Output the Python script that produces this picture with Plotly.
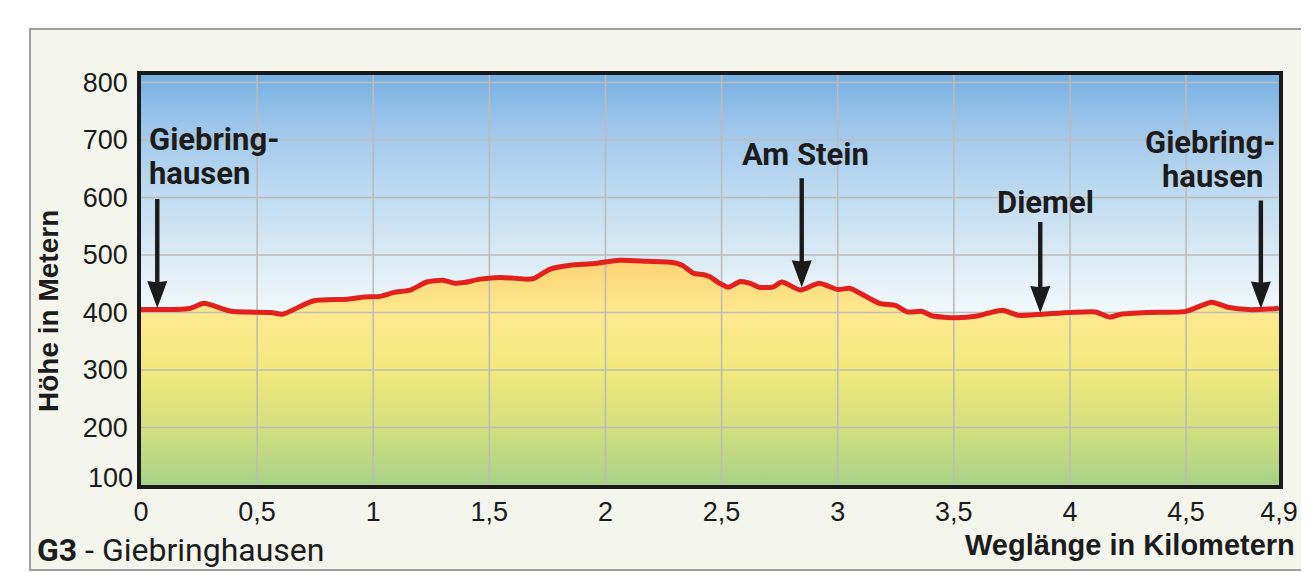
import plotly.graph_objects as go

# ---------------- data ----------------
km = [0.00, 0.21, 0.27, 0.39, 0.56, 0.61, 0.74, 0.89, 0.96, 1.03, 1.09, 1.16, 1.23, 1.30,
      1.35, 1.39, 1.46, 1.55, 1.66, 1.69, 1.76, 1.85, 1.95, 2.06, 2.18, 2.29, 2.33, 2.38,
      2.42, 2.45, 2.49, 2.53, 2.58, 2.62, 2.66, 2.72, 2.76, 2.84, 2.92, 3.00, 3.05, 3.08,
      3.18, 3.25, 3.30, 3.36, 3.41, 3.51, 3.60, 3.65, 3.71, 3.78, 3.88, 4.00, 4.11, 4.17,
      4.22, 4.34, 4.50, 4.61, 4.68, 4.77, 4.89, 4.90]
elev = [405, 407, 416, 402, 400, 397, 420, 423, 427, 428, 435, 439, 453, 456,
        451, 452, 458, 461, 458, 459, 475, 482, 485, 491, 489, 487, 482, 468,
        466, 462, 451, 444, 454, 451, 444, 444, 453, 439, 451, 440, 442, 437,
        416, 412, 401, 402, 394, 391, 394, 399, 404, 395, 397, 400, 401, 392,
        397, 400, 402, 418, 409, 405, 407, 408]

x_tickvals = [0, 0.5, 1, 1.5, 2, 2.5, 3, 3.5, 4, 4.5, 4.9]
x_ticktext = ["0", "0,5", "1", "1,5", "2", "2,5", "3", "3,5", "4", "4,5", "4,9"]
y_tickvals = [200, 300, 400, 500, 600, 700, 800]
y_bottom_label = "100"
x_range = [0, 4.9]
y_range = [100, 813]

label_lines = [["Giebring-", "hausen"], ["Am Stein"], ["Diemel"], ["Giebring-", "hausen"]]
label_km = [0.07, 2.845, 3.872, 4.822]
label_elev = [408, 444, 399, 407]

title_text = "<b>G3</b> - Giebringhausen"
x_title = "Weglänge in Kilometern"
y_title = "Höhe in Metern"

# ---------------- style / layout ----------------
W, H = 1309, 572
OFF = 8  # page body margin of the browser
ML, MR, MT, MB = 141 - OFF, 30 + OFF, 75 - OFF, 87 + OFF
PW, PH = W - ML - MR, H - MT - MB


def px_x(px):
    return (px - OFF - ML) / PW


def px_y(py):
    return (H - MB - (py - OFF)) / PH


LBL = "Roboto, Liberation Sans, Arial, sans-serif"
REG = "Liberation Sans, Arial, Helvetica, sans-serif"
TXT = "#1c1c1c"

label_style = [
    dict(xanchor="left", xshift=[-10, -10], yshift=[168, 134], alen=109),
    dict(xanchor="center", xshift=[4], yshift=[133], alen=109),
    dict(xanchor="center", xshift=[5], yshift=[111], alen=91),
    dict(xanchor="right", xshift=[16, 4], yshift=[166, 132], alen=108),
]

fig = go.Figure()

# sky background (gradient)
fig.add_trace(go.Scatter(
    x=[x_range[0], x_range[1], x_range[1], x_range[0], x_range[0]],
    y=[y_range[0], y_range[0], y_range[1], y_range[1], y_range[0]],
    mode="none", fill="toself",
    fillgradient=dict(type="vertical", start=380, stop=y_range[1],
                      colorscale=[[0, "#f7fbfc"], [0.25, "#dcecf5"], [0.55, "#bcd9f0"],
                                  [0.8, "#9dc6eb"], [1, "#76b0e2"]]),
    hoverinfo="skip", showlegend=False))

# terrain fill (gradient)
fig.add_trace(go.Scatter(
    x=km, y=elev, mode="none", fill="tozeroy", line_shape="spline",
    fillgradient=dict(type="vertical", start=100, stop=495,
                      colorscale=[[0, "#a7d286"], [0.25, "#d3df7f"], [0.5, "#f1e97c"],
                                  [0.75, "#fde98f"], [1, "#fdd274"]]),
    hoverinfo="skip", showlegend=False))

# grid lines drawn above fills
gx, gy = [], []
for v in x_tickvals[1:-1]:
    gx += [v, v, None]
    gy += [y_range[0], y_range[1], None]
for v in y_tickvals:
    gx += [x_range[0], x_range[1], None]
    gy += [v, v, None]
fig.add_trace(go.Scatter(x=gx, y=gy, mode="lines", line=dict(color="#bcbcbc", width=1.6),
                         hoverinfo="skip", showlegend=False))

# profile line
fig.add_trace(go.Scatter(x=km, y=elev, mode="lines",
                         line=dict(color="#e2201c", width=5, shape="spline", smoothing=0.6),
                         hoverinfo="skip", showlegend=False))

shapes = [
    dict(type="rect", xref="paper", yref="paper", x0=px_x(30), x1=px_x(1340),
         y0=px_y(570), y1=px_y(29), fillcolor="#f4f6ee",
         line=dict(color="#a0a0a0", width=2), layer="below"),
]
annotations = []

for lines, xk, ye, st in zip(label_lines, label_km, label_elev, label_style):
    L = st["alen"]
    path = f"M -2.2,{L} L 2.2,{L} L 2.2,26 L 10,27 L 0,0 L -10,27 L -2.2,26 Z"
    shapes.append(dict(type="path", xref="x", yref="y", xsizemode="pixel", ysizemode="pixel",
                       xanchor=xk, yanchor=ye, path=path, fillcolor="#1b1b1b",
                       line=dict(width=0), layer="above"))
    for txt, xs, ys in zip(lines, st["xshift"], st["yshift"]):
        annotations.append(dict(x=xk, y=ye, xref="x", yref="y", text=txt, showarrow=False,
                                xanchor=st["xanchor"], yanchor="middle", xshift=xs, yshift=ys,
                                font=dict(family=LBL, size=31, color=TXT, weight="bold")))

annotations.append(dict(x=0, y=y_range[0], xref="paper", yref="y", text=y_bottom_label,
                        showarrow=False, xanchor="right", yanchor="middle", xshift=-6, yshift=7,
                        font=dict(family=REG, size=27, color=TXT)))
annotations.append(dict(x=px_x(48), y=px_y(311), xref="paper", yref="paper", text=y_title,
                        showarrow=False, textangle=-90, xanchor="center", yanchor="middle",
                        font=dict(family=REG, size=28, color=TXT, weight="bold")))
annotations.append(dict(x=px_x(1297), y=px_y(545), xref="paper", yref="paper", text=x_title,
                        showarrow=False, xanchor="right", yanchor="middle",
                        font=dict(family=REG, size=29, color=TXT, weight="bold")))
annotations.append(dict(x=px_x(35), y=px_y(550), xref="paper", yref="paper", text=title_text,
                        showarrow=False, xanchor="left", yanchor="middle",
                        font=dict(family=LBL, size=32, color=TXT)))

fig.update_layout(
    width=W, height=H,
    margin=dict(l=ML, r=MR, t=MT, b=MB, pad=0),
    paper_bgcolor="#ffffff", plot_bgcolor="rgba(0,0,0,0)",
    showlegend=False,
    shapes=shapes, annotations=annotations,
    xaxis=dict(range=x_range, tickvals=x_tickvals, ticktext=x_ticktext, showgrid=False,
               zeroline=False, showline=True, linewidth=3.5, linecolor="#1b1b1b", mirror=True,
               ticks="", ticklabelstandoff=0, layer="above traces",
               tickfont=dict(family=REG, size=27, color=TXT)),
    yaxis=dict(range=y_range, tickvals=y_tickvals, showgrid=False, zeroline=False,
               showline=True, linewidth=3.5, linecolor="#1b1b1b", mirror=True,
               ticks="", ticklabelstandoff=4, layer="above traces",
               tickfont=dict(family=REG, size=27, color=TXT)),
)

fig.write_html("out.html")
